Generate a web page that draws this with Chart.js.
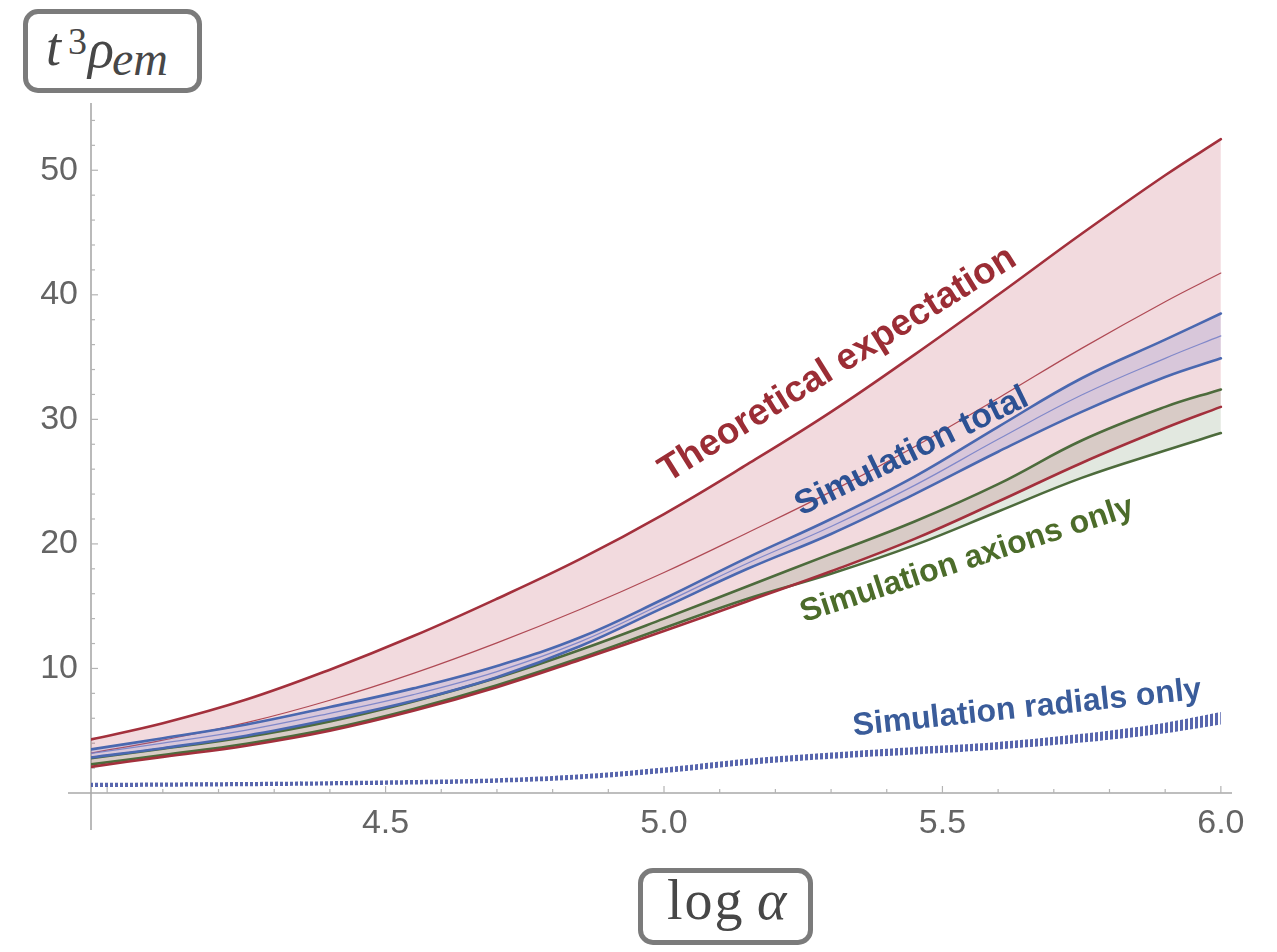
<!DOCTYPE html>
<html>
<head>
<meta charset="utf-8">
<script src="https://cdn.jsdelivr.net/npm/chart.js@4.4.1/dist/chart.umd.min.js"></script>
<style>
html,body{margin:0;padding:0;background:#fff;}
#wrap{position:relative;width:1277px;height:952px;overflow:hidden;background:#fff;}
#c{position:absolute;left:0;top:0;}
.box{position:absolute;box-sizing:border-box;border:5px solid #7b7b7b;border-radius:15px;background:#fff;
  font-family:"Liberation Serif","DejaVu Serif",serif;color:#474747;line-height:1;}
#ylab{left:23px;top:9px;width:179px;height:84px;}
#xlab{left:638px;top:868px;width:175px;height:77px;}
.m{position:absolute;white-space:nowrap;}
</style>
</head>
<body>
<div id="wrap">
<canvas id="c" width="1277" height="952"></canvas>
<div class="box" id="ylab">
  <span class="m" style="left:18px;top:6px;font-size:54px;font-style:italic;">t</span>
  <span class="m" style="left:40px;top:8px;font-size:38px;">3</span>
  <span class="m" style="left:60px;top:8px;font-size:54px;font-style:italic;">ρ</span>
  <span class="m" style="left:84px;top:21px;font-size:48px;font-style:italic;">em</span>
</div>
<div class="box" id="xlab">
  <span class="m" style="left:24px;top:-1px;font-size:56px;letter-spacing:2px;">log</span>
  <span class="m" style="left:114px;top:-1px;font-size:56px;font-style:italic;">α</span>
</div>
</div>
<script>
// ---- data ----
const xs            = [3.971, 4.1, 4.25, 4.4, 4.55, 4.7, 4.85, 5.0, 5.15, 5.3, 5.45, 5.6, 5.75, 5.9, 6.0];
const theoryUpper   = [4.3, 5.6, 7.5, 9.9, 12.6, 15.6, 18.8, 22.4, 26.4, 30.6, 35.2, 40.0, 44.9, 49.6, 52.5];
const theoryMid     = [3.2, 4.25, 5.65, 7.45, 9.6, 12.05, 14.75, 17.7, 20.9, 24.2, 27.8, 31.7, 35.7, 39.45, 41.75];
const theoryLower   = [2.1, 2.9, 3.8, 5.0, 6.6, 8.5, 10.7, 13.0, 15.4, 17.8, 20.4, 23.4, 26.5, 29.3, 31.0];
const totalUpper    = [3.5, 4.4, 5.5, 6.9, 8.4, 10.2, 12.5, 15.6, 18.9, 22.0, 25.4, 29.4, 33.3, 36.4, 38.5];
const totalMid      = [3.18, 4.0, 5.05, 6.4, 7.9, 9.75, 12.15, 15.25, 18.45, 21.4, 24.7, 28.4, 31.95, 34.9, 36.7];
const totalLower    = [2.85, 3.6, 4.6, 5.9, 7.4, 9.3, 11.8, 14.9, 18.0, 20.8, 24.0, 27.4, 30.6, 33.4, 34.9];
const axionsUpper   = [2.8, 3.55, 4.5, 5.75, 7.35, 9.25, 11.5, 14.0, 16.6, 19.2, 21.8, 24.8, 28.3, 31.0, 32.4];
const axionsLower   = [2.3, 3.05, 3.95, 5.15, 6.75, 8.65, 10.85, 13.25, 15.6, 17.6, 19.9, 22.6, 25.3, 27.5, 28.9];
const radialsUpper  = [0.82, 0.85, 0.89, 0.95, 1.04, 1.18, 1.5, 2.05, 2.75, 3.25, 3.7, 4.1, 4.75, 5.65, 6.5];
const radialsLower  = [0.48, 0.51, 0.55, 0.61, 0.68, 0.82, 1.1, 1.6, 2.25, 2.75, 3.1, 3.5, 4.05, 4.8, 5.5];

const xTickValues = [4.5, 5.0, 5.5, 6.0];
const xTickLabels = ["4.5", "5.0", "5.5", "6.0"];
const yTickValues = [10, 20, 30, 40, 50];
const yTickLabels = ["10", "20", "30", "40", "50"];
const xAxisCross = 3.971;

const curveLabels = [
  {text: "Theoretical expectation", x: 5.312, y: 34.4, angle: -32, color: "#9b2d35", size: 37},
  {text: "Simulation total",        x: 5.445, y: 27.4, angle: -26, color: "#2c5193", size: 34},
  {text: "Simulation axions only",  x: 5.544, y: 18.7, angle: -18, color: "#4c6c2a", size: 32},
  {text: "Simulation radials only", x: 5.652, y: 6.8,  angle: -6,  color: "#3a5c9a", size: 32}
];

const pts = arr => xs.map((x, i) => ({x: x, y: arr[i]}));

const ctx = document.getElementById('c').getContext('2d');
function stripePattern() {
  const p = document.createElement('canvas');
  p.width = 5; p.height = 4;
  const g = p.getContext('2d');
  g.fillStyle = 'rgba(70,85,165,0.9)';
  g.fillRect(0, 0, 3, 4);
  return ctx.createPattern(p, 'repeat');
}

const RED = '#a3303c', BLUE = '#4a68b0', GREEN = '#4d6b3c';
const base = {pointRadius: 0, tension: 0.4, fill: false};

const datasets = [
  Object.assign({}, base, {label: 'theoryLower', data: pts(theoryLower), borderColor: RED, borderWidth: 2.6, order: 6}),
  Object.assign({}, base, {label: 'theoryUpper', data: pts(theoryUpper), borderColor: RED, borderWidth: 2.6, order: 10,
    fill: {target: 0}, backgroundColor: 'rgba(190,70,90,0.2)'}),
  Object.assign({}, base, {label: 'theoryMid', data: pts(theoryMid), borderColor: 'rgba(163,48,60,0.85)', borderWidth: 1.2, order: 9}),
  Object.assign({}, base, {label: 'axionsLower', data: pts(axionsLower), borderColor: GREEN, borderWidth: 2.6, order: 7}),
  Object.assign({}, base, {label: 'axionsUpper', data: pts(axionsUpper), borderColor: GREEN, borderWidth: 2.6, order: 8,
    fill: {target: 3}, backgroundColor: 'rgba(110,140,100,0.2)'}),
  Object.assign({}, base, {label: 'totalLower', data: pts(totalLower), borderColor: BLUE, borderWidth: 2.6, order: 4}),
  Object.assign({}, base, {label: 'totalUpper', data: pts(totalUpper), borderColor: BLUE, borderWidth: 2.6, order: 5,
    fill: {target: 5}, backgroundColor: 'rgba(110,120,200,0.2)'}),
  Object.assign({}, base, {label: 'totalMid', data: pts(totalMid), borderColor: 'rgba(120,130,200,0.9)', borderWidth: 1.2, order: 3}),
  Object.assign({}, base, {label: 'radialsLower', data: pts(radialsLower), borderColor: 'rgba(0,0,0,0)', borderWidth: 0, order: 1}),
  Object.assign({}, base, {label: 'radialsUpper', data: pts(radialsUpper), borderColor: 'rgba(0,0,0,0)', borderWidth: 0, order: 2,
    fill: {target: 8}, backgroundColor: stripePattern()})
];

const axesPlugin = {
  id: 'mmaAxes',
  beforeDatasetsDraw(chart) {
    const c = chart.ctx, xS = chart.scales.x, yS = chart.scales.y;
    const x0 = xS.getPixelForValue(xAxisCross), y0 = yS.getPixelForValue(0);
    c.save();
    c.strokeStyle = '#a9a9a9';
    c.lineWidth = 1.6;
    c.beginPath(); c.moveTo(xS.left - 23, y0); c.lineTo(xS.right, y0); c.stroke();
    c.beginPath(); c.moveTo(x0, yS.top); c.lineTo(x0, y0 + 37); c.stroke();
    c.lineWidth = 1.2;
    c.strokeStyle = '#b4b4b4';
    for (let v = 2; v <= 54; v += 2) {
      const py = yS.getPixelForValue(v);
      const len = (v % 10 === 0) ? 7 : 4;
      c.beginPath(); c.moveTo(x0, py); c.lineTo(x0 + len, py); c.stroke();
    }
    for (let k = 40; k <= 60; k++) {
      const v = k / 10;
      const px = xS.getPixelForValue(v);
      const len = (k % 5 === 0) ? 7 : 4;
      c.beginPath(); c.moveTo(px, y0); c.lineTo(px, y0 - len); c.stroke();
    }
    c.restore();
  },
  afterDatasetsDraw(chart) {
    const c = chart.ctx, xS = chart.scales.x, yS = chart.scales.y;
    c.save();
    curveLabels.forEach(l => {
      c.save();
      c.translate(xS.getPixelForValue(l.x), yS.getPixelForValue(l.y));
      c.rotate(l.angle * Math.PI / 180);
      c.font = 'bold ' + l.size + 'px "Liberation Sans", Arial, sans-serif';
      c.fillStyle = l.color;
      c.textAlign = 'center';
      c.textBaseline = 'middle';
      c.fillText(l.text, 0, 0);
      c.restore();
    });
    c.restore();
  }
};

new Chart(ctx, {
  type: 'line',
  data: {datasets: datasets},
  options: {
    responsive: false,
    animation: false,
    devicePixelRatio: 1,
    layout: {padding: {left: 0, top: 103, right: 45, bottom: 0}},
    plugins: {legend: {display: false}, tooltip: {enabled: false}},
    elements: {line: {borderCapStyle: 'round', borderJoinStyle: 'round'}},
    scales: {
      x: {
        type: 'linear', min: 3.971, max: 6.02,
        grid: {display: false}, border: {display: false},
        afterBuildTicks: s => { s.ticks = xTickValues.map(v => ({value: v})); },
        afterFit: s => { s.height = 159; },
        ticks: {
          autoSkip: false, maxRotation: 0, padding: 2, color: '#646464',
          font: {family: '"Liberation Sans", Arial, sans-serif', size: 34},
          callback: (v) => { const i = xTickValues.indexOf(v); return i >= 0 ? xTickLabels[i] : ''; }
        }
      },
      y: {
        type: 'linear', min: 0, max: 55.4,
        grid: {display: false}, border: {display: false},
        afterBuildTicks: s => { s.ticks = yTickValues.map(v => ({value: v})); },
        afterFit: s => { s.width = 91; },
        ticks: {
          autoSkip: false, padding: 5, color: '#646464',
          font: {family: '"Liberation Sans", Arial, sans-serif', size: 34},
          callback: (v) => { const i = yTickValues.indexOf(v); return i >= 0 ? yTickLabels[i] : ''; }
        }
      }
    }
  },
  plugins: [axesPlugin]
});
</script>
</body>
</html>
